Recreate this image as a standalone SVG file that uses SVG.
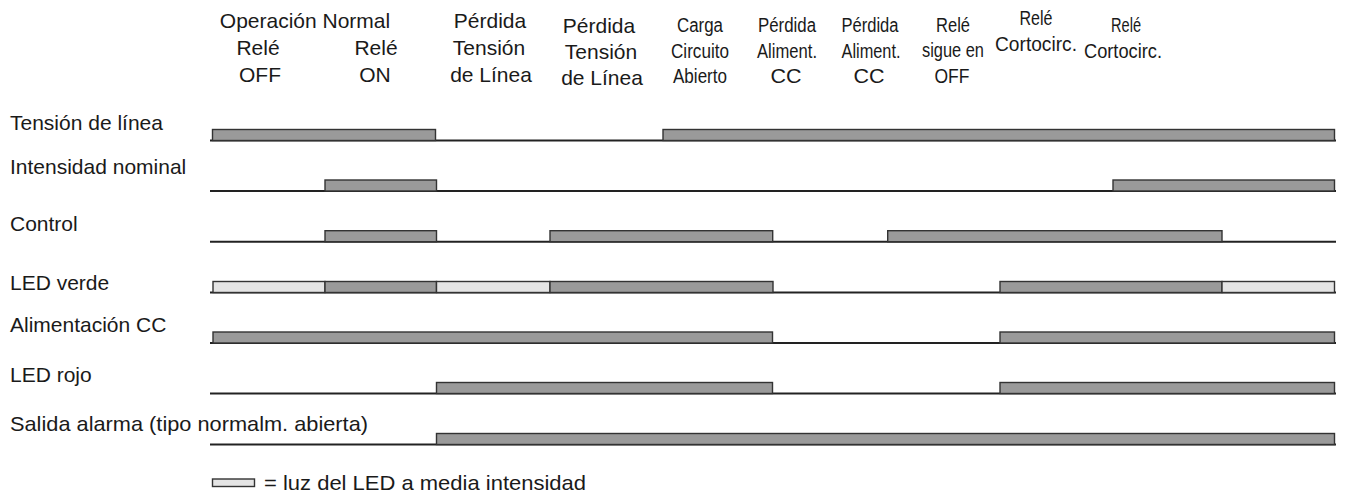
<svg xmlns="http://www.w3.org/2000/svg" width="1347" height="496" viewBox="0 0 1347 496">
<style>
text{font-family:"Liberation Sans",Arial,sans-serif;font-size:21px;fill:#1a1a1a}
.h{text-anchor:middle}
.n{font-size:20px}
.base{stroke:#222;stroke-width:2;fill:none}
.on{fill:#9a9a9a;stroke:#333;stroke-width:1.4}
.half{fill:#e4e4e4;stroke:#333;stroke-width:1.4}
</style>
<rect width="1347" height="496" fill="#fff"/>
<g id="header">
<text class="h" x="305" y="28">Operación Normal</text>
<text class="h" x="258" y="55">Relé</text>
<text class="h" x="260" y="82">OFF</text>
<text class="h" x="376" y="55">Relé</text>
<text class="h" x="375" y="82">ON</text>
<text class="h" x="490" y="28">Pérdida</text>
<text class="h" x="489" y="55">Tensión</text>
<text class="h" x="491" y="82">de Línea</text>
<text class="h" x="599" y="33">Pérdida</text>
<text class="h" x="601" y="59">Tensión</text>
<text class="h" x="602" y="85">de Línea</text>
<text class="h n" x="700" y="32" textLength="46" lengthAdjust="spacingAndGlyphs">Carga</text>
<text class="h n" x="700" y="58" textLength="58" lengthAdjust="spacingAndGlyphs">Circuito</text>
<text class="h n" x="700" y="83" textLength="54" lengthAdjust="spacingAndGlyphs">Abierto</text>
<text class="h n" x="787" y="32" textLength="58" lengthAdjust="spacingAndGlyphs">Pérdida</text>
<text class="h n" x="787" y="58" textLength="60" lengthAdjust="spacingAndGlyphs">Aliment.</text>
<text class="h n" x="786" y="83" textLength="31" lengthAdjust="spacingAndGlyphs">CC</text>
<text class="h n" x="870" y="32" textLength="57" lengthAdjust="spacingAndGlyphs">Pérdida</text>
<text class="h n" x="871" y="58" textLength="59" lengthAdjust="spacingAndGlyphs">Aliment.</text>
<text class="h n" x="869" y="83" textLength="31" lengthAdjust="spacingAndGlyphs">CC</text>
<text class="h n" x="953" y="32" textLength="34" lengthAdjust="spacingAndGlyphs">Relé</text>
<text class="h n" x="953" y="57" textLength="62" lengthAdjust="spacingAndGlyphs">sigue en</text>
<text class="h n" x="952" y="83" textLength="35" lengthAdjust="spacingAndGlyphs">OFF</text>
<text class="h n" x="1036" y="25" textLength="33" lengthAdjust="spacingAndGlyphs">Relé</text>
<text class="h n" x="1036" y="51" textLength="82" lengthAdjust="spacingAndGlyphs">Cortocirc.</text>
<text class="h n" x="1126" y="32" textLength="30" lengthAdjust="spacingAndGlyphs">Relé</text>
<text class="h n" x="1123" y="58" textLength="78" lengthAdjust="spacingAndGlyphs">Cortocirc.</text>
</g>
<g id="row-tension">
<text x="10" y="130">Tensión de línea</text>
<path class="base" d="M210 140.5H1336"/>
<rect class="on" x="212.5" y="129.5" width="223" height="11"/>
<rect class="on" x="663" y="129.5" width="671.5" height="11"/>
</g>
<g id="row-intensidad">
<text x="10" y="174">Intensidad nominal</text>
<path class="base" d="M210 191H1336"/>
<rect class="on" x="325" y="180" width="111.5" height="11"/>
<rect class="on" x="1113" y="180" width="221.5" height="11"/>
</g>
<g id="row-control">
<text x="10" y="231">Control</text>
<path class="base" d="M210 241.7H1336"/>
<rect class="on" x="325" y="230.7" width="111.5" height="11"/>
<rect class="on" x="550" y="230.7" width="222.7" height="11"/>
<rect class="on" x="887.7" y="230.7" width="334.3" height="11"/>
</g>
<g id="row-led-verde">
<text x="10" y="290">LED verde</text>
<path class="base" d="M210 292.5H1336"/>
<rect class="half" x="213" y="281.5" width="112" height="11"/>
<rect class="on" x="325" y="281.5" width="111.5" height="11"/>
<rect class="half" x="436.5" y="281.5" width="113.5" height="11"/>
<rect class="on" x="550" y="281.5" width="223" height="11"/>
<rect class="on" x="1000" y="281.5" width="222" height="11"/>
<rect class="half" x="1222" y="281.5" width="112.5" height="11"/>
</g>
<g id="row-alimentacion">
<text x="10" y="332">Alimentación CC</text>
<path class="base" d="M210 343H1336"/>
<rect class="on" x="213" y="332" width="559.5" height="11"/>
<rect class="on" x="1000" y="332" width="334.5" height="11"/>
</g>
<g id="row-led-rojo">
<text x="10" y="382">LED rojo</text>
<path class="base" d="M210 393.5H1336"/>
<rect class="on" x="436.5" y="382.5" width="336" height="11"/>
<rect class="on" x="1000" y="382.5" width="334.5" height="11"/>
</g>
<g id="row-salida">
<text x="10" y="431" textLength="358" lengthAdjust="spacingAndGlyphs">Salida alarma (tipo normalm. abierta)</text>
<path class="base" d="M210 444.5H1336"/>
<rect class="on" x="436.5" y="433.5" width="898" height="11"/>
</g>
<g id="legend">
<rect class="half" x="212.5" y="479" width="42" height="7.5"/>
<text x="264" y="489.5" textLength="322" lengthAdjust="spacingAndGlyphs">= luz del LED a media intensidad</text>
</g>
</svg>
